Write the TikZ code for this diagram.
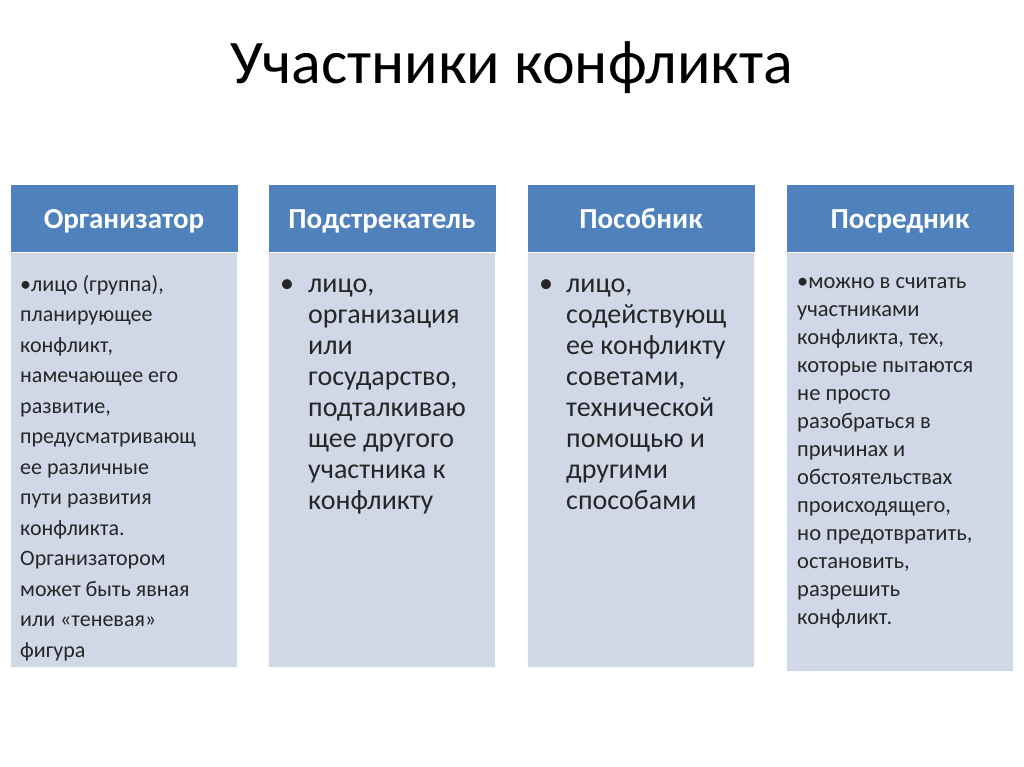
\documentclass[tikz,border=0pt]{standalone}
\usepackage{fontspec}
\setmainfont{Carlito}
\definecolor{hd}{HTML}{4F81BD}
\definecolor{bd}{HTML}{D0D8E8}
\definecolor{tx}{HTML}{262626}
\begin{document}
\begin{tikzpicture}[x=1pt,y=-1pt,
  hdr/.style={fill=hd,draw=white,line width=1pt},
  bodybox/.style={fill=bd,draw=white!92!bd,line width=2pt},
  txt/.style={anchor=base west,align=left,inner sep=0pt,text=tx}]
\useasboundingbox (0,0) rectangle (1024,767);
\fill[white] (0,0) rectangle (1024,767);
\node[text=black,font=\fontsize{62}{70}\selectfont] (title) at (512,68) {Участники конфликта};
\foreach \i/\x/\t/\b in {1/10/Организатор/668,2/268/Подстрекатель/668,3/527/Пособник/668,4/786/Посредник/672}{
  \draw[bodybox] (\x,252) rectangle (\x+228,\b);
  \path[hdr] (\x,185) rectangle (\x+228,252);
  \node[text=white,font=\fontsize{29}{32}\selectfont\bfseries,anchor=base] (h\i) at (\x+114,229) {\t};
}
\node[txt,font=\fontsize{22}{30.5}\selectfont] (t1) at (20,657) {•лицо (группа),\\планирующее\\конфликт,\\намечающее его\\развитие,\\предусматривающ\\ее различные\\пути развития\\конфликта.\\Организатором\\может быть явная\\или «теневая»\\фигура};
\node[txt,font=\fontsize{28}{31}\selectfont] (b2) at (280,292) {•};
\node[txt,font=\fontsize{28}{31}\selectfont] (t2) at (308,509) {лицо,\\организация\\или\\государство,\\подталкиваю\\щее другого\\участника к\\конфликту};
\node[txt,font=\fontsize{28}{31}\selectfont] (b3) at (539,292) {•};
\node[txt,font=\fontsize{28}{31}\selectfont] (t3) at (566,509) {лицо,\\содействующ\\ее конфликту\\советами,\\технической\\помощью и\\другими\\способами};
\node[txt,font=\fontsize{22.5}{28}\selectfont] (t4) at (797,624) {•можно в считать\\участниками\\конфликта, тех,\\которые пытаются\\не просто\\разобраться в\\причинах и\\обстоятельствах\\происходящего,\\но предотвратить,\\остановить,\\разрешить\\конфликт.};
\end{tikzpicture}
\end{document}
